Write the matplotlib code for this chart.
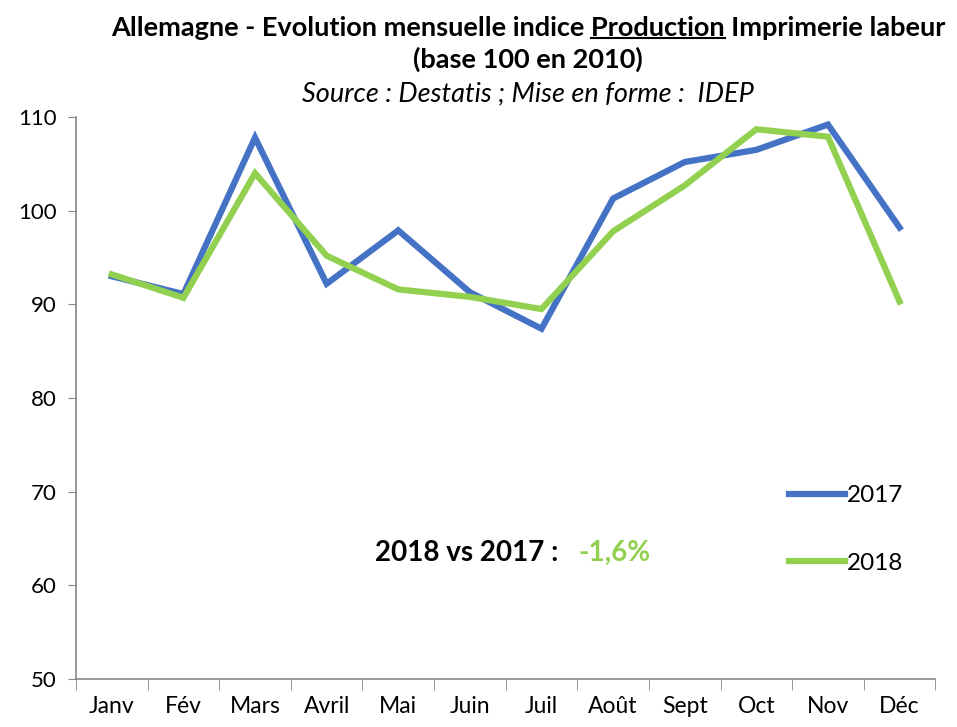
import matplotlib
matplotlib.use('Agg')
import matplotlib.pyplot as plt
import numpy as np
from matplotlib.lines import Line2D

plt.rcParams['font.family'] = ['Lato', 'DejaVu Sans']

mois = ['Janv', 'Fév', 'Mars', 'Avril', 'Mai', 'Juin', 'Juil', 'Août', 'Sept', 'Oct', 'Nov', 'Déc']
v2017 = [93.0, 91.1, 107.8, 92.2, 97.9, 91.3, 87.4, 101.3, 105.2, 106.5, 109.2, 98.2]
v2018 = [93.2, 90.7, 104.0, 95.2, 91.6, 90.8, 89.5, 97.8, 102.7, 108.7, 107.9, 90.3]
yticks = [50, 60, 70, 80, 90, 100, 110]

fig = plt.figure(figsize=(9.57, 7.27), dpi=100)
ax = fig.add_axes([0.0794, 0.066, 0.898, 0.773])

x = np.arange(len(mois))
ax.plot(x, v2017, color='#4472C4', lw=4.5, label='2017', solid_joinstyle='miter')
ax.plot(x, v2018, color='#92D050', lw=4.5, label='2018', solid_joinstyle='miter')

ax.set_xlim(-0.5, 11.5)
ax.set_ylim(50, 110)
ax.set_yticks(yticks)
ax.set_xticks(x)
ax.set_xticklabels(mois)
ax.set_xticks(np.arange(-0.5, 12, 1), minor=True)
ax.tick_params(axis='x', which='major', length=0, pad=12, labelsize=16.5)
ax.tick_params(axis='x', which='minor', length=8, color='#868686')
ax.tick_params(axis='y', length=6, color='#868686', labelsize=16, pad=8)
for s in ['top', 'right']:
    ax.spines[s].set_visible(False)
for s in ['left', 'bottom']:
    ax.spines[s].set_color('#868686')
    ax.spines[s].set_linewidth(1.2)

ax.legend(loc='upper left', bbox_to_anchor=(0.818, 0.362), frameon=False, fontsize=17.5,
          handlelength=2.3, handletextpad=0.1, labelspacing=1.9, borderaxespad=0)

fig.text(0.392, 0.239, '2018 vs 2017 :', fontsize=20, fontweight='bold', ha='left', va='center')
fig.text(0.604, 0.239, '-1,6%', fontsize=20, fontweight='bold', color='#92D050', ha='left', va='center')

# title with underlined "Production"
t1 = 'Allemagne - Evolution mensuelle indice Production Imprimerie labeur'
pre = 'Allemagne - Evolution mensuelle indice '
cx = 0.552
fs = 19.5
title = fig.text(cx, 0.961, t1, fontsize=fs, fontweight='bold', ha='center', va='center')
fig.text(cx, 0.919, '(base 100 en 2010)', fontsize=fs, fontweight='bold', ha='center', va='center')
fig.text(cx, 0.871, 'Source : Destatis ; Mise en forme :  IDEP', fontsize=fs, style='italic',
         ha='center', va='center')

r = fig.canvas.get_renderer()
bb = title.get_window_extent(r)
tp = fig.text(0, 0, pre, fontsize=fs, fontweight='bold')
tw = fig.text(0, 0, 'Production', fontsize=fs, fontweight='bold')
w_pre = tp.get_window_extent(r).width
w_word = tw.get_window_extent(r).width
tp.remove()
tw.remove()
x0 = (bb.x0 + w_pre) / fig.bbox.width
x1 = (bb.x0 + w_pre + w_word) / fig.bbox.width
yu = (bb.y0 + 2) / fig.bbox.height
fig.add_artist(Line2D([x0, x1], [yu, yu], color='black', lw=1.5, transform=fig.transFigure))

fig.savefig('out.png', dpi=100)
